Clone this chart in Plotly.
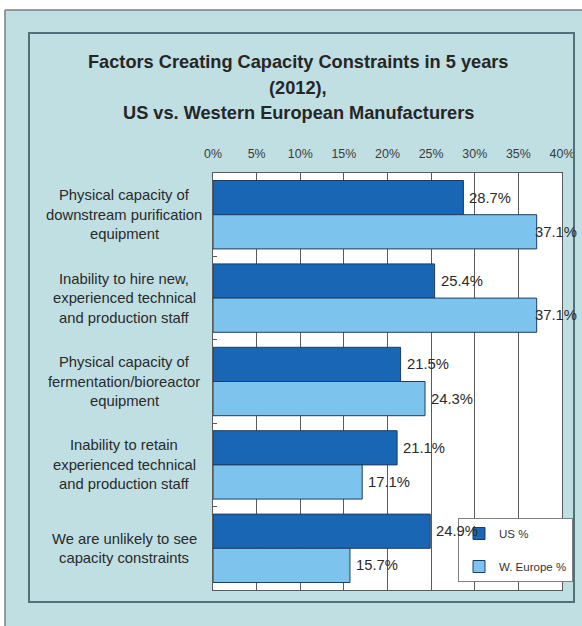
import plotly.graph_objects as go

# ---- data -------------------------------------------------------------
categories = [
    "Physical capacity of<br>downstream purification<br>equipment",
    "Inability to hire new,<br>experienced technical<br>and production staff",
    "Physical capacity of<br>fermentation/bioreactor<br>equipment",
    "Inability to retain<br>experienced technical<br>and production staff",
    "We are unlikely to see<br>capacity constraints",
]
us_pct = [28.7, 25.4, 21.5, 21.1, 24.9]
europe_pct = [37.1, 37.1, 24.3, 17.1, 15.7]
tick_vals = [0, 5, 10, 15, 20, 25, 30, 35, 40]
tick_text = ["0%", "5%", "10%", "15%", "20%", "25%", "30%", "35%", "40%"]
series_names = ["US %", "W. Europe %"]

title_lines = [
    "Factors Creating Capacity Constraints in 5 years",
    "(2012),",
    "US vs. Western European Manufacturers",
]

# ---- styling ----------------------------------------------------------
W, H = 582, 626
L, R, T, B = 213, 20, 173, 36          # plot area: x 213..562, y 173..590
PW, PH = W - L - R, H - T - B
FONT = "Liberation Sans, Arial, sans-serif"
BG = "#bfdfe3"
US_COLOR = "#1866b4"
EU_COLOR = "#7cc4ee"
EDGE = "#1f3c60"
GRID = "#5a5a5a"
TXT = "#2a2a2a"
BARGAP = 0.18


def px_x(px):
    return (px - L) / PW


def px_y(py):
    return (H - B - py) / PH


fig = go.Figure()
for name, vals, color in [(series_names[0], us_pct, US_COLOR),
                          (series_names[1], europe_pct, EU_COLOR)]:
    fig.add_trace(go.Bar(
        name=name, x=vals, y=categories, orientation="h",
        marker=dict(color=color, line=dict(color=EDGE, width=1)),
        legendgroup=name, hoverinfo="skip",
    ))

annotations = []

# value labels at the end of each bar
half = (1 - BARGAP) / 4
for offset, vals in [(-half, us_pct), (half, europe_pct)]:
    for i, v in enumerate(vals):
        annotations.append(dict(
            x=v, y=i + offset, xref="x", yref="y",
            text=f"{v:.1f}%", showarrow=False,
            xanchor="left", yanchor="middle",
            xshift=-4 if v > 35 else 4,
            font=dict(family=FONT, size=14.8, color=TXT),
        ))

# centred category labels to the left of the bars
line_step = 19.5
for i, cat in enumerate(categories):
    lines = cat.split("<br>")
    n = len(lines)
    for k, ln in enumerate(lines):
        annotations.append(dict(
            x=px_x(124), y=i, xref="paper", yref="y",
            text=ln, showarrow=False,
            xanchor="center", yanchor="middle",
            yshift=((n - 1) / 2 - k) * line_step,
            font=dict(family=FONT, size=14.8, color=TXT),
        ))

# chart title
for txt, py in zip(title_lines, [62, 88, 113]):
    annotations.append(dict(
        x=px_x(298), y=px_y(py), xref="paper", yref="paper",
        text=f"<b>{txt}</b>", showarrow=False,
        xanchor="center", yanchor="middle",
        font=dict(family=FONT, size=18.2, color="#262626"),
    ))

shapes = [
    # white margin outside the outer frame
    dict(type="rect", xref="paper", yref="paper",
         x0=px_x(0), x1=px_x(W), y0=px_y(0), y1=px_y(10),
         fillcolor="white", line=dict(width=0), layer="below"),
    dict(type="rect", xref="paper", yref="paper",
         x0=px_x(0), x1=px_x(5), y0=px_y(0), y1=px_y(H),
         fillcolor="white", line=dict(width=0), layer="below"),
    # outer frame edges
    dict(type="line", xref="paper", yref="paper",
         x0=px_x(5), x1=px_x(W), y0=px_y(10), y1=px_y(10),
         line=dict(color="#7d7d7d", width=1.5)),
    dict(type="line", xref="paper", yref="paper",
         x0=px_x(5), x1=px_x(5), y0=px_y(10), y1=px_y(H),
         line=dict(color="#7d7d7d", width=1.5)),
    # inner chart frame
    dict(type="rect", xref="paper", yref="paper",
         x0=px_x(29), x1=px_x(574), y0=px_y(33), y1=px_y(602),
         line=dict(color="#50707a", width=2), fillcolor="rgba(0,0,0,0)"),
]

fig.update_layout(
    width=W, height=H,
    margin=dict(l=L, r=R, t=T, b=B, pad=0, autoexpand=False),
    paper_bgcolor=BG, plot_bgcolor="white",
    barmode="group", bargap=BARGAP, bargroupgap=0,
    showlegend=True,
    legend=dict(
        x=px_x(458), y=px_y(518), xanchor="left", yanchor="top",
        bgcolor="white", bordercolor="#7d7d7d", borderwidth=1,
        font=dict(family=FONT, size=11.5, color="#333333"),
        traceorder="grouped", tracegroupgap=14,
    ),
    xaxis=dict(
        side="top", range=[0, 40], tickvals=tick_vals, ticktext=tick_text,
        showgrid=True, gridcolor=GRID, gridwidth=1,
        showline=True, linecolor=GRID, linewidth=1, mirror="ticks",
        ticks="inside", ticklen=5, tickcolor=GRID,
        ticklabelstandoff=9, zeroline=False, automargin=False,
        tickfont=dict(family=FONT, size=12.4, color="#3a3a3a"),
        fixedrange=True,
    ),
    yaxis=dict(
        autorange="reversed", showticklabels=False, automargin=False,
        showline=True, linecolor=GRID, linewidth=1, mirror=True,
        ticks="inside", tickson="boundaries", ticklen=4, tickcolor=GRID,
        showgrid=False, fixedrange=True,
    ),
    annotations=annotations,
    shapes=shapes,
    font=dict(family=FONT, color=TXT),
)

# keep the page itself from scrolling so the figure fills the window
page_js = (
    "document.documentElement.style.overflow='hidden';"
    "document.body.style.overflow='hidden';"
    "document.body.style.margin='0';"
)
fig.write_html("out.html", post_script=page_js,
               config={"displayModeBar": False})
